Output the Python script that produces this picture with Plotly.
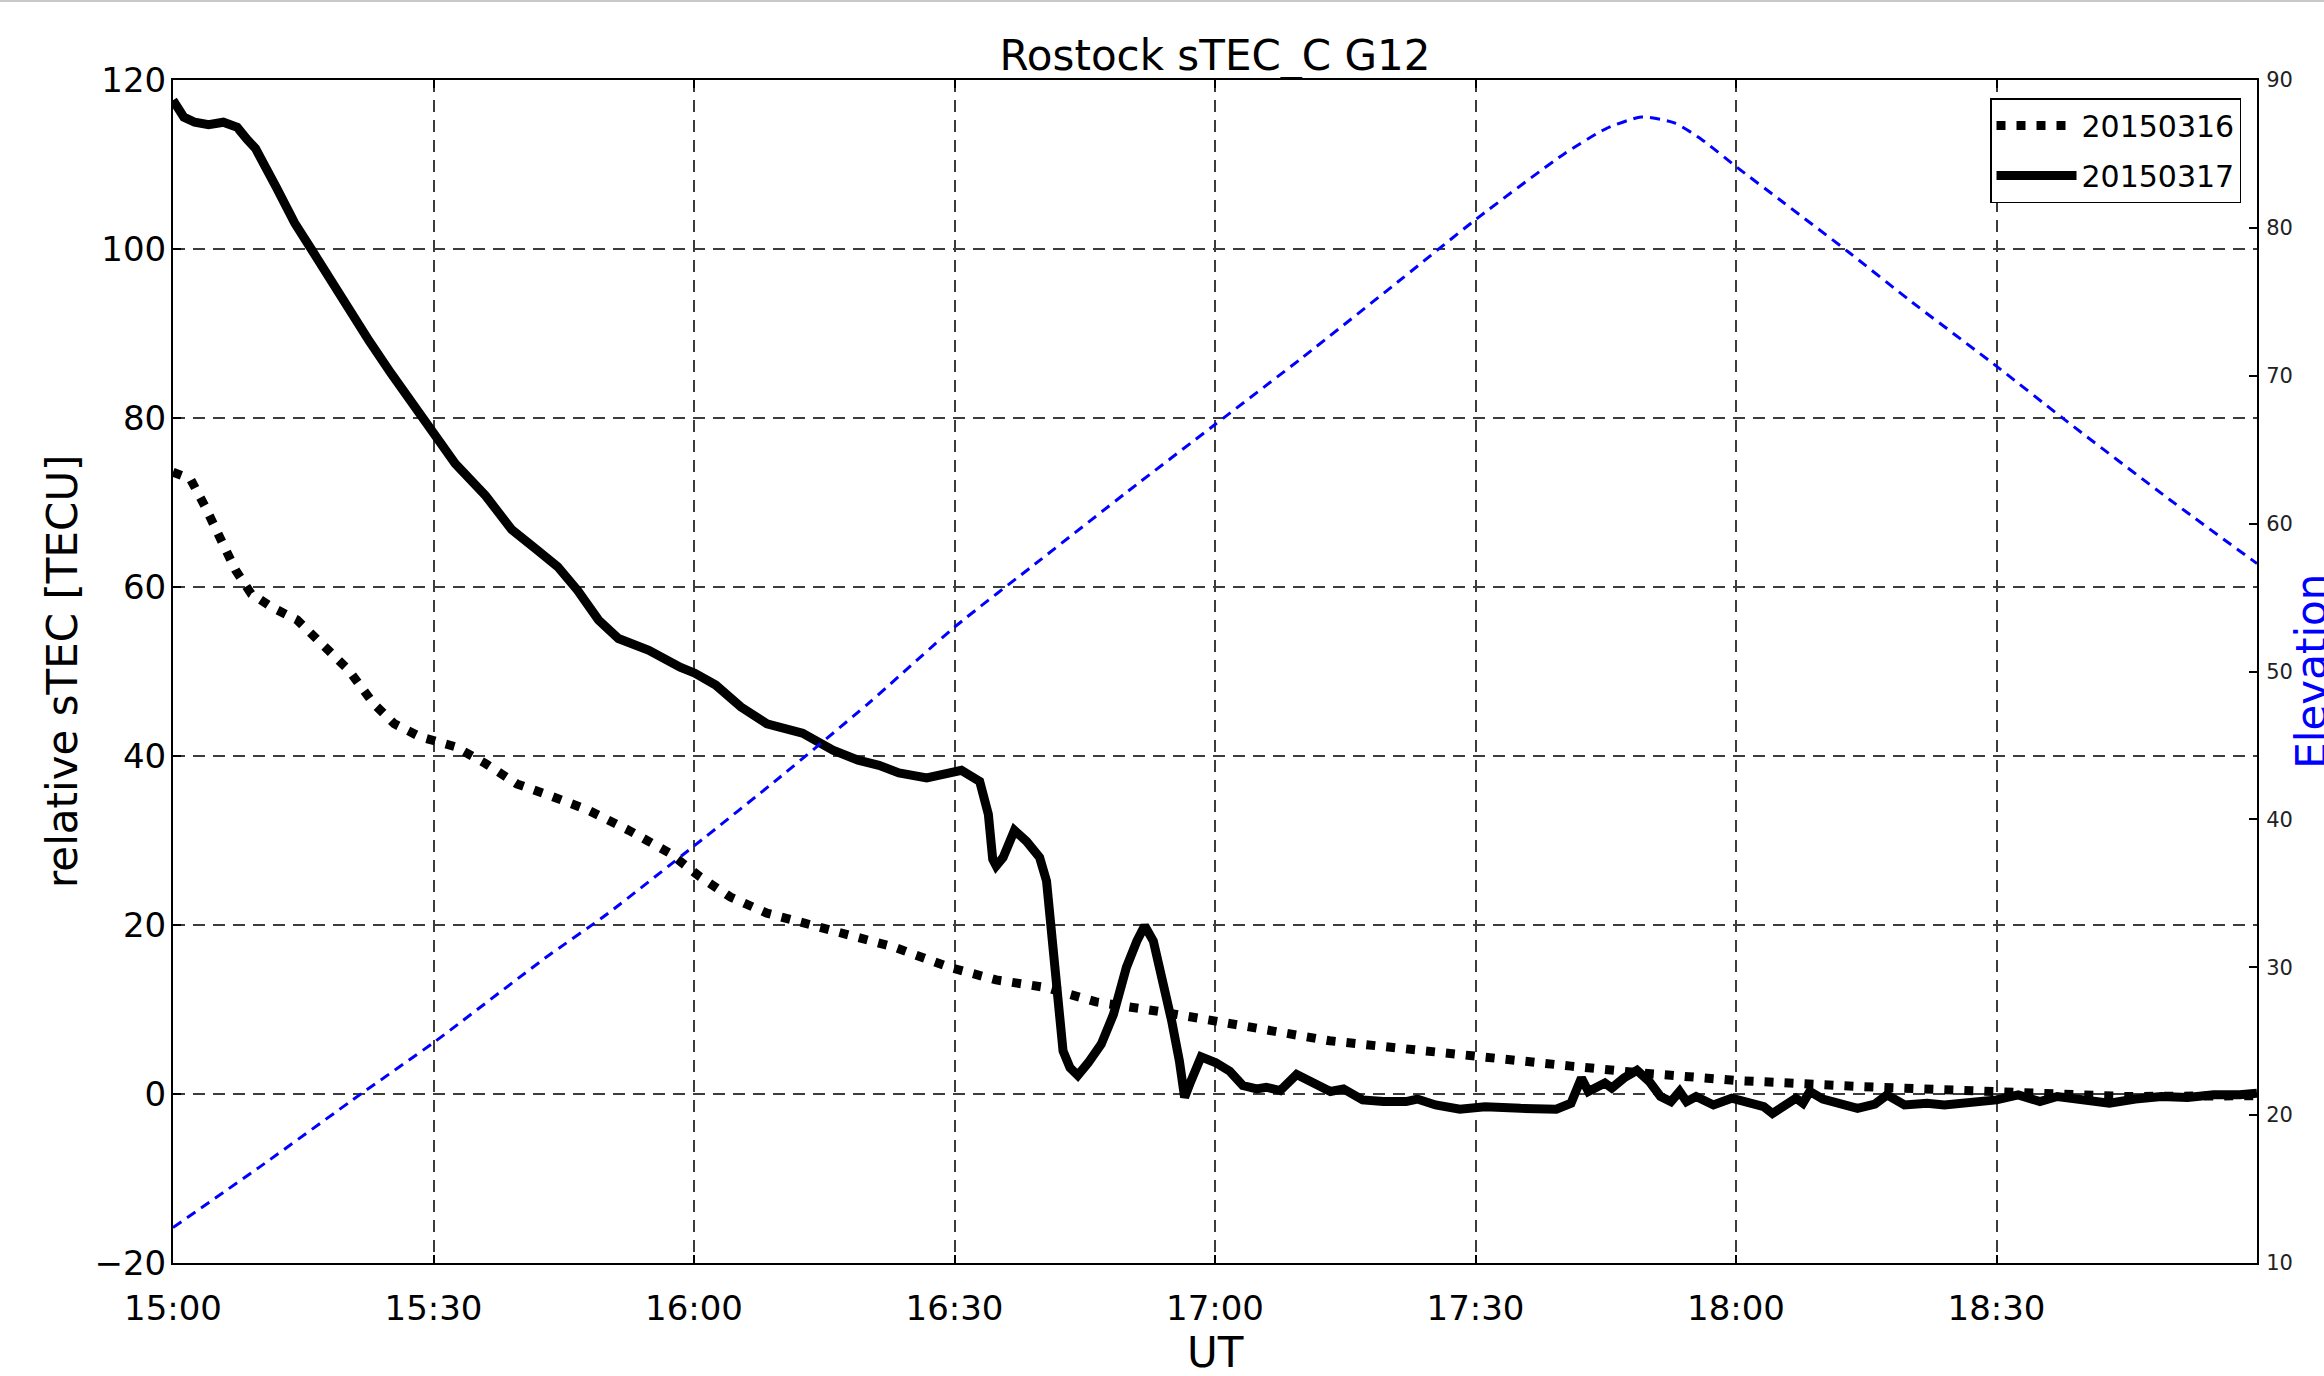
import plotly.graph_objects as go

# Minutes after 15:00 UT and relative slant TEC (TECU), 16 March 2015
minutes_0316 = [0, 2.0, 3.7, 5.5, 7.2, 9.0, 11.4, 14.3, 17.2, 20.2, 23.1, 25.5, 28.4,
                32.5, 36.0, 39.6, 43.7, 47.8, 52.5, 57.2, 60.7, 64.2, 68.4, 73.1, 77.8,
                83.0, 89.4, 94.8, 100.5, 106.3, 114.0, 119.8, 125.5, 133.2, 140.5, 150.0,
                161.0, 169.0, 180.0, 194.0, 207.0, 215.0, 225.0, 240.0]
stec_0316 = [73.6, 72.8, 69.5, 65.5, 62.0, 59.2, 57.6, 56.1, 53.3, 50.2, 46.2, 43.8, 42.3,
             41.1, 39.1, 36.7, 35.2, 33.6, 31.2, 28.5, 25.7, 23.3, 21.4, 20.2, 19.0,
             17.4, 15.0, 13.5, 12.6, 10.9, 9.7, 8.7, 7.7, 6.3, 5.5, 4.4,
             3.3, 2.5, 1.6, 0.9, 0.3, 0.0, -0.3, -0.2]

# Minutes after 15:00 UT and relative slant TEC (TECU), 17 March 2015
minutes_0317 = [0, 1.25, 2.5, 4.1, 5.8, 7.4, 8.5, 9.5, 11.9, 14.0, 16.1, 18.9, 22.6, 25.1,
                28.4, 30.2, 32.5, 36.0, 39.0, 41.9, 44.3, 46.6, 49.0, 51.3, 54.8, 58.4,
                60.1, 62.5, 65.4, 68.4, 72.5, 76.0, 78.9, 81.3, 83.6, 86.8, 89.0, 90.8,
                92.9, 93.9, 94.4, 94.8, 95.6, 96.9, 98.3, 99.8, 100.6, 101.2, 101.8,
                102.5, 103.3, 104.2, 105.4, 106.9, 108.3, 109.8, 111.0, 111.9, 112.9,
                114.0, 115.0, 115.9, 116.5, 117.1, 118.4, 120.1, 121.7, 123.2, 124.8,
                125.9, 127.5, 129.4, 131.3, 133.3, 134.8, 137.0, 139.4, 142.0, 143.3,
                145.4, 148.2, 151.1, 155.2, 159.3, 161.0, 162.2, 163.0, 164.9, 165.7,
                167.1, 168.6, 170.0, 171.3, 172.5, 173.5, 174.3, 175.4, 177.4, 179.5,
                181.5, 183.2, 184.2, 185.6, 186.9, 187.7, 188.5, 190.0, 191.5, 194.0,
                196.0, 197.4, 199.4, 202.0, 204.0, 207.0, 210.0, 212.5, 215.0, 217.0,
                220.0, 223.0, 226.0, 229.0, 232.0, 235.0, 238.0, 240.0]
stec_0317 = [117.6, 115.6, 115.0, 114.7, 115.0, 114.4, 113.0, 111.9, 107.3, 103.1, 99.7,
             95.0, 89.1, 85.3, 80.7, 77.8, 74.6, 70.8, 66.8, 64.4, 62.4, 59.6, 56.1, 53.9,
             52.5, 50.5, 49.8, 48.4, 45.8, 43.8, 42.7, 40.7, 39.5, 38.9, 38.0, 37.4, 37.8,
             38.3, 37.0, 33.1, 27.8, 27.0, 28.0, 31.2, 29.9, 28.0, 25.2, 19.3, 11.4, 5.1,
             3.1, 2.2, 3.7, 5.9, 9.4, 15.0, 18.1, 19.9, 18.1, 13.4, 8.7, 3.9, -0.4, 1.2,
             4.4, 3.7, 2.7, 1.0, 0.6, 0.8, 0.4, 2.3, 1.2, 0.3, 0.6, -0.7, -0.9, -0.9, -0.6,
             -1.3, -1.8, -1.5, -1.7, -1.8, -1.1, 1.9, 0.3, 1.3, 0.7, 1.9, 2.8, 1.5, -0.3,
             -0.9, 0.3, -0.9, -0.3, -1.3, -0.5, -0.9, -1.5, -2.3, -1.5, -0.5, -1.1, 0.3,
             -0.6, -1.1, -1.7, -1.2, -0.1, -1.3, -1.1, -1.3, -1.0, -0.7, -0.1, -0.9, -0.3,
             -0.8, -1.1, -0.6, -0.3, -0.4, -0.1, -0.1, 0.1]

# Satellite G12 elevation (degrees) seen from Rostock
minutes_elev = [0, 10, 21.8, 30, 42.8, 50, 60, 70, 80, 90, 100, 110, 120, 130, 141.6,
                150.1, 160.2, 165, 169.1, 172.9, 176, 180.1, 185.5, 193.1, 200, 210.1,
                217.7, 230, 240]
elevation = [12.4, 16.5, 21.5, 24.9, 30.6, 33.6, 38.2, 42.9, 47.8, 53.0, 57.6, 62.2, 66.7,
             71.2, 76.6, 80.6, 85.0, 86.7, 87.5, 87.1, 86.0, 84.1, 81.7, 78.3, 75.1, 70.6,
             67.1, 61.6, 57.3]

tick_hours = [15.0, 15.5, 16.0, 16.5, 17.0, 17.5, 18.0, 18.5]
tick_labels = ["15:00", "15:30", "16:00", "16:30", "17:00", "17:30", "18:00", "18:30"]


def to_hours(mins):
    return [15.0 + m / 60.0 for m in mins]


FONT = "DejaVu Sans"
GRID = dict(showgrid=True, gridcolor="#3c3c3c", gridwidth=1.5, griddash="12px,8px")

fig = go.Figure()
fig.add_trace(go.Scatter(
    x=to_hours(minutes_0316), y=stec_0316, name="20150316", mode="lines",
    legendgroup="d16",
    line=dict(color="black", width=9, dash="9px,11px"),
))
fig.add_trace(go.Scatter(
    x=to_hours(minutes_0317), y=stec_0317, name="20150317", mode="lines",
    legendgroup="d17",
    line=dict(color="black", width=9),
))
fig.add_trace(go.Scatter(
    x=to_hours(minutes_elev), y=elevation, yaxis="y2", mode="lines", showlegend=False,
    line=dict(color="#0000ff", width=3, dash="10px,7px", shape="spline", smoothing=0.6),
))

plot_w = 2324 - 173 - 67
plot_h = 1376 - 80 - 113

fig.update_layout(
    width=2324, height=1376, autosize=False,
    margin=dict(l=173, r=67, t=80, b=113, pad=0),
    paper_bgcolor="white", plot_bgcolor="white",
    font=dict(family=FONT, color="black"),
    title=dict(text="Rostock sTEC_C G12", font=dict(size=42, family=FONT, color="black"),
               x=0.5, xref="paper", xanchor="center",
               y=1, yref="paper", yanchor="bottom", pad=dict(b=10)),
    xaxis=dict(range=[15, 19], tickvals=tick_hours, ticktext=tick_labels,
               ticks="inside", ticklen=8, tickwidth=1.5, tickcolor="black",
               showline=True, linecolor="black", linewidth=2, mirror="ticks",
               tickfont=dict(size=34, family=FONT, color="black"),
               ticklabelstandoff=14, zeroline=False, **GRID),
    yaxis=dict(range=[-20, 120], tickvals=[-20, 0, 20, 40, 60, 80, 100, 120],
               ticktext=["\u221220", "0", "20", "40", "60", "80", "100", "120"],
               ticks="inside", ticklen=8, tickwidth=1.5, tickcolor="black",
               showline=True, linecolor="black", linewidth=2,
               tickfont=dict(size=34, family=FONT, color="black"),
               ticklabelstandoff=-2, zeroline=False, **GRID),
    yaxis2=dict(range=[10, 90], dtick=10, tick0=10, overlaying="y", side="right",
                ticks="inside", ticklen=8, tickwidth=1.5, tickcolor="black",
                showline=True, linecolor="black", linewidth=2, showgrid=False,
                zeroline=False, ticklabelstandoff=3,
                tickfont=dict(size=21, family=FONT, color="#222222")),
    legend=dict(x=1 - 16 / plot_w, y=1 - 18 / plot_h, xanchor="right", yanchor="top",
                bgcolor="white", bordercolor="black", borderwidth=1.5,
                itemwidth=80, tracegroupgap=8,
                font=dict(size=30, family=FONT, color="black")),
    showlegend=True,
)

# Axis titles
fig.add_annotation(text="UT", xref="paper", yref="paper", x=0.5, y=-0.076,
                   xanchor="center", yanchor="middle", showarrow=False,
                   font=dict(size=42, family=FONT, color="black"))
fig.add_annotation(text="relative sTEC [TECU]", xref="paper", yref="paper",
                   x=-0.053, y=0.5, xanchor="center", yanchor="middle", textangle=-90,
                   showarrow=False, font=dict(size=42, family=FONT, color="black"))
fig.add_annotation(text="Elevation", xref="paper", yref="paper",
                   x=1.026, y=0.5, xanchor="center", yanchor="middle", textangle=-90,
                   showarrow=False, font=dict(size=42, family=FONT, color="#0000ff"))

# Thin rule along the top edge of the page
fig.add_shape(type="line", xref="paper", yref="paper",
              x0=-173 / plot_w, x1=1 + 67 / plot_w,
              y0=1 + 79 / plot_h, y1=1 + 79 / plot_h,
              line=dict(color="#c8c8c8", width=2))

fig.write_html("out.html")
